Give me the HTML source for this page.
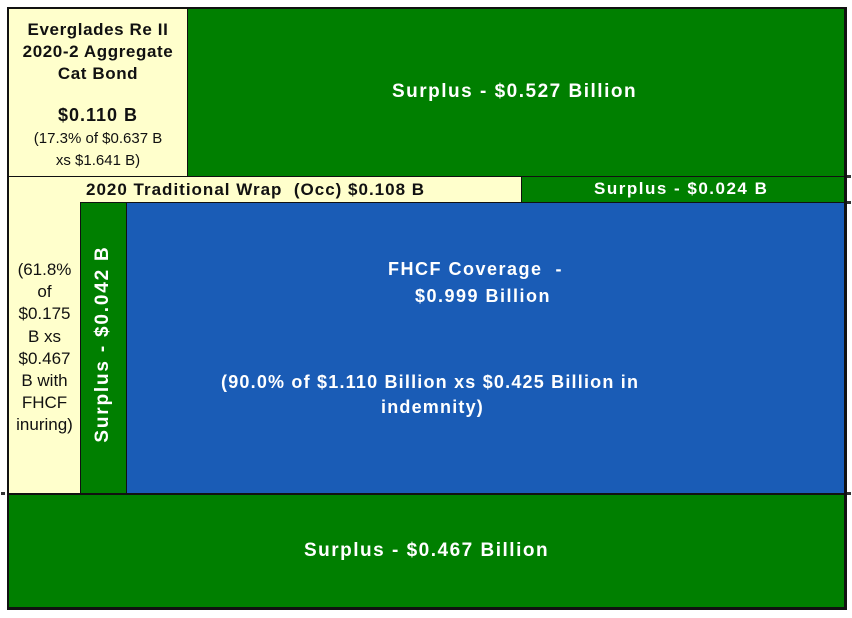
<!DOCTYPE html>
<html><head><meta charset="utf-8"><style>
body{margin:0;width:852px;height:618px;background:#fff;position:relative;overflow:hidden;font-family:"Liberation Sans",Arial,sans-serif;font-weight:bold}
.b{position:absolute;box-sizing:border-box;border:1px solid #111}
.g{background:#007f00;color:#fff}
.c{background:#ffffcc;color:#111}
.bl{background:#1a5cb6;color:#fff}
.t{position:absolute;white-space:nowrap}
.m{position:absolute;width:4px;height:3px;background:#333}
</style></head><body>
<div class="b c" style="left:8px;top:8px;width:180px;height:169px;text-align:center">
 <div style="font-size:17px;line-height:22px;margin-top:10px;letter-spacing:0.6px">Everglades Re II<br>2020-2 Aggregate<br>Cat Bond</div>
 <div style="font-size:18px;margin-top:20px;letter-spacing:1px">$0.110 B</div>
 <div style="font-size:15px;font-weight:normal;line-height:22px;margin-top:2px">(17.3% of $0.637 B<br>xs $1.641 B)</div>
</div>
<div class="b g" style="left:187px;top:8px;width:658px;height:169px"><div class="t" style="left:204px;top:72px;font-size:19px;letter-spacing:1.5px">Surplus - $0.527 Billion</div></div>
<div class="b c" style="left:8px;top:176px;width:514px;height:27px"><div class="t" style="left:77px;top:3px;font-size:17px;letter-spacing:1px">2020 Traditional Wrap&nbsp; (Occ) $0.108 B</div></div>
<div class="b g" style="left:521px;top:176px;width:324px;height:27px"><div class="t" style="left:72px;top:2px;font-size:17px;letter-spacing:1.5px">Surplus - $0.024 B</div></div>
<div class="b c" style="left:8px;top:202px;width:73px;height:292px;border-top:none">
 <div style="position:absolute;left:0;width:71px;top:57px;text-align:center;font-size:17px;font-weight:normal;line-height:22.2px">(61.8%<br>of<br>$0.175<br>B xs<br>$0.467<br>B with<br>FHCF<br>inuring)</div>
</div>
<div class="b g" style="left:80px;top:202px;width:47px;height:292px"><div class="t" style="left:22px;top:141px;font-size:19px;transform:translate(-50%,-50%) rotate(-90deg);letter-spacing:1.8px">Surplus - $0.042 B</div></div>
<div class="b bl" style="left:126px;top:202px;width:719px;height:292px">
 <div class="t" style="left:261px;top:56px;font-size:18px;letter-spacing:1.5px">FHCF Coverage&nbsp; -</div>
 <div class="t" style="left:288px;top:83px;font-size:18px;letter-spacing:1.5px">$0.999 Billion</div>
 <div class="t" style="left:94px;top:167px;font-size:18px;line-height:25px;letter-spacing:1.2px">(90.0% of $1.110 Billion xs $0.425 Billion in<br><span style="padding-left:160px">indemnity)</span></div>
</div>
<div class="b g" style="left:8px;top:493px;width:837px;height:115px;border-top:2px solid #111"><div class="t" style="left:295px;top:45px;font-size:19px;letter-spacing:1.5px">Surplus - $0.467 Billion</div></div>
<div style="position:absolute;left:7px;top:7px;width:840px;height:603px;border:2px solid #111;box-sizing:border-box"></div>
<div class="m" style="left:847px;top:175px"></div>
<div class="m" style="left:847px;top:201px"></div>
<div class="m" style="left:847px;top:492px"></div>
<div class="m" style="left:1px;top:492px"></div>
</body></html>
